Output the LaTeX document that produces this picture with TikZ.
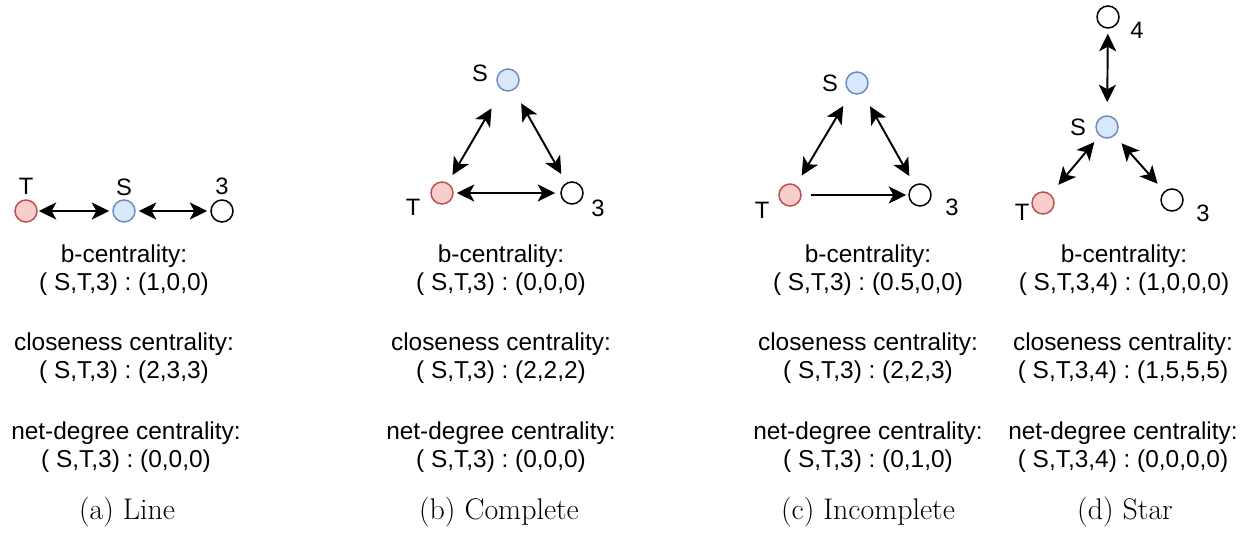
\documentclass[tikz,border=0pt]{standalone}
\usepackage{fontspec}
\setsansfont{Liberation Sans}
\usetikzlibrary{arrows.meta}
\definecolor{SFill}{HTML}{DAE8FC}
\definecolor{SLine}{HTML}{6C8EBF}
\definecolor{TFill}{HTML}{F8CECC}
\definecolor{TLine}{HTML}{B85450}
\tikzset{
  snode/.style={circle, draw=SLine, fill=SFill, line width=0.85pt, minimum size=0.44cm, inner sep=0pt},
  tnode/.style={circle, draw=TLine, fill=TFill, line width=0.85pt, minimum size=0.44cm, inner sep=0pt},
  onode/.style={circle, draw=black, fill=white, line width=0.85pt, minimum size=0.44cm, inner sep=0pt},
  nlabel/.style={font=\sffamily\fontsize{13.5}{15}\selectfont, inner sep=0pt},
  metric/.style={font=\sffamily\fontsize{13.9}{16}\selectfont, align=center, inner sep=0pt},
  capt/.style={font=\fontsize{17}{20}\selectfont, inner sep=0pt},
  biarrow/.style={{Stealth[length=3.5mm, width=3.4mm, inset=0.9mm]}-{Stealth[length=3.5mm, width=3.4mm, inset=0.9mm]}, line width=1.1pt},
  onearrow/.style={-{Stealth[length=3.5mm, width=3.4mm, inset=0.9mm]}, line width=1.1pt}
}
\frenchspacing

\begin{document}
\begin{tikzpicture}[x=0.02cm, y=-0.02cm]
\useasboundingbox (0,0) rectangle (1248,533);

% (a) Line
\node[tnode] (aT) at (26,211) {};
\node[snode] (aS) at (124,211) {};
\node[onode] (a3) at (222,211) {};
\node[nlabel] (aTl) at (26,186) {T};
\node[nlabel] (aSl) at (124,187) {S};
\node[nlabel] (a3l) at (222,186) {3};
\draw[biarrow, shorten <=0.02cm, shorten >=0.06cm] (aT) -- (aS);
\draw[biarrow, shorten <=0.06cm, shorten >=0.06cm] (aS) -- (a3);
\node[metric] (aBet) at (124,270) {b-centrality:\\( S,T,3) : (1,0,0)};
\node[metric] (aClo) at (124,358) {closeness centrality:\\( S,T,3) : (2,3,3)};
\node[metric] (aNet) at (126,447) {net-degree centrality:\\( S,T,3) : (0,0,0)};
\node[capt] (aCap) at (127,512) {(a) Line};

% (b) Complete
\node[snode] (bS) at (508,80) {};
\node[tnode] (bT) at (442,193) {};
\node[onode] (b3) at (572,193) {};
\node[nlabel] (bSl) at (480,73) {S};
\node[nlabel] (bTl) at (413,207) {T};
\node[nlabel] (b3l) at (598,208) {3};
\draw[biarrow, shorten <=0.42cm, shorten >=0.18cm] (bS) -- (bT);
\draw[biarrow, shorten <=0.3cm, shorten >=0.2cm] (bS) -- (b3);
\draw[biarrow, shorten <=0.06cm, shorten >=0.1cm] (bT) -- (b3);
\node[metric] (bBet) at (501,270) {b-centrality:\\( S,T,3) : (0,0,0)};
\node[metric] (bClo) at (501,358) {closeness centrality:\\( S,T,3) : (2,2,2)};
\node[metric] (bNet) at (501,447) {net-degree centrality:\\( S,T,3) : (0,0,0)};
\node[capt] (bCap) at (499,512) {(b) Complete};

% (c) Incomplete
\node[snode] (cS) at (857,83) {};
\node[tnode] (cT) at (790,195) {};
\node[onode] (c3) at (920,195) {};
\node[nlabel] (cSl) at (830,83) {S};
\node[nlabel] (cTl) at (762,210) {T};
\node[nlabel] (c3l) at (952,207) {3};
\draw[biarrow, shorten <=0.3cm, shorten >=0.22cm] (cS) -- (cT);
\draw[biarrow, shorten <=0.3cm, shorten >=0.2cm] (cS) -- (c3);
\draw[onearrow, shorten <=0.18cm, shorten >=0.04cm] (cT) -- (c3);
\node[metric] (cBet) at (868,270) {b-centrality:\\( S,T,3) : (0.5,0,0)};
\node[metric] (cClo) at (868,358) {closeness centrality:\\( S,T,3) : (2,2,3)};
\node[metric] (cNet) at (868,447) {net-degree centrality:\\( S,T,3) : (0,1,0)};
\node[capt] (cCap) at (868,512) {(c) Incomplete};

% (d) Star
\node[onode] (d4) at (1108,17) {};
\node[snode] (dS) at (1107,127) {};
\node[tnode] (dT) at (1043,203) {};
\node[onode] (d3) at (1172,200) {};
\node[nlabel] (d4l) at (1137,30) {4};
\node[nlabel] (dSl) at (1078,127) {S};
\node[nlabel] (dTl) at (1022,212) {T};
\node[nlabel] (d3l) at (1203,213) {3};
\draw[biarrow, shorten <=0.1cm, shorten >=0.26cm] (d4) -- (dS);
\draw[biarrow, shorten <=0.16cm, shorten >=0.24cm] (dS) -- (dT);
\draw[biarrow, shorten <=0.2cm, shorten >=0.2cm] (dS) -- (d3);
\node[metric] (dBet) at (1124,270) {b-centrality:\\( S,T,3,4) : (1,0,0,0)};
\node[metric] (dClo) at (1123,358) {closeness centrality:\\( S,T,3,4) : (1,5,5,5)};
\node[metric] (dNet) at (1123,447) {net-degree centrality:\\( S,T,3,4) : (0,0,0,0)};
\node[capt] (dCap) at (1125,512) {(d) Star};
\end{tikzpicture}
\end{document}
